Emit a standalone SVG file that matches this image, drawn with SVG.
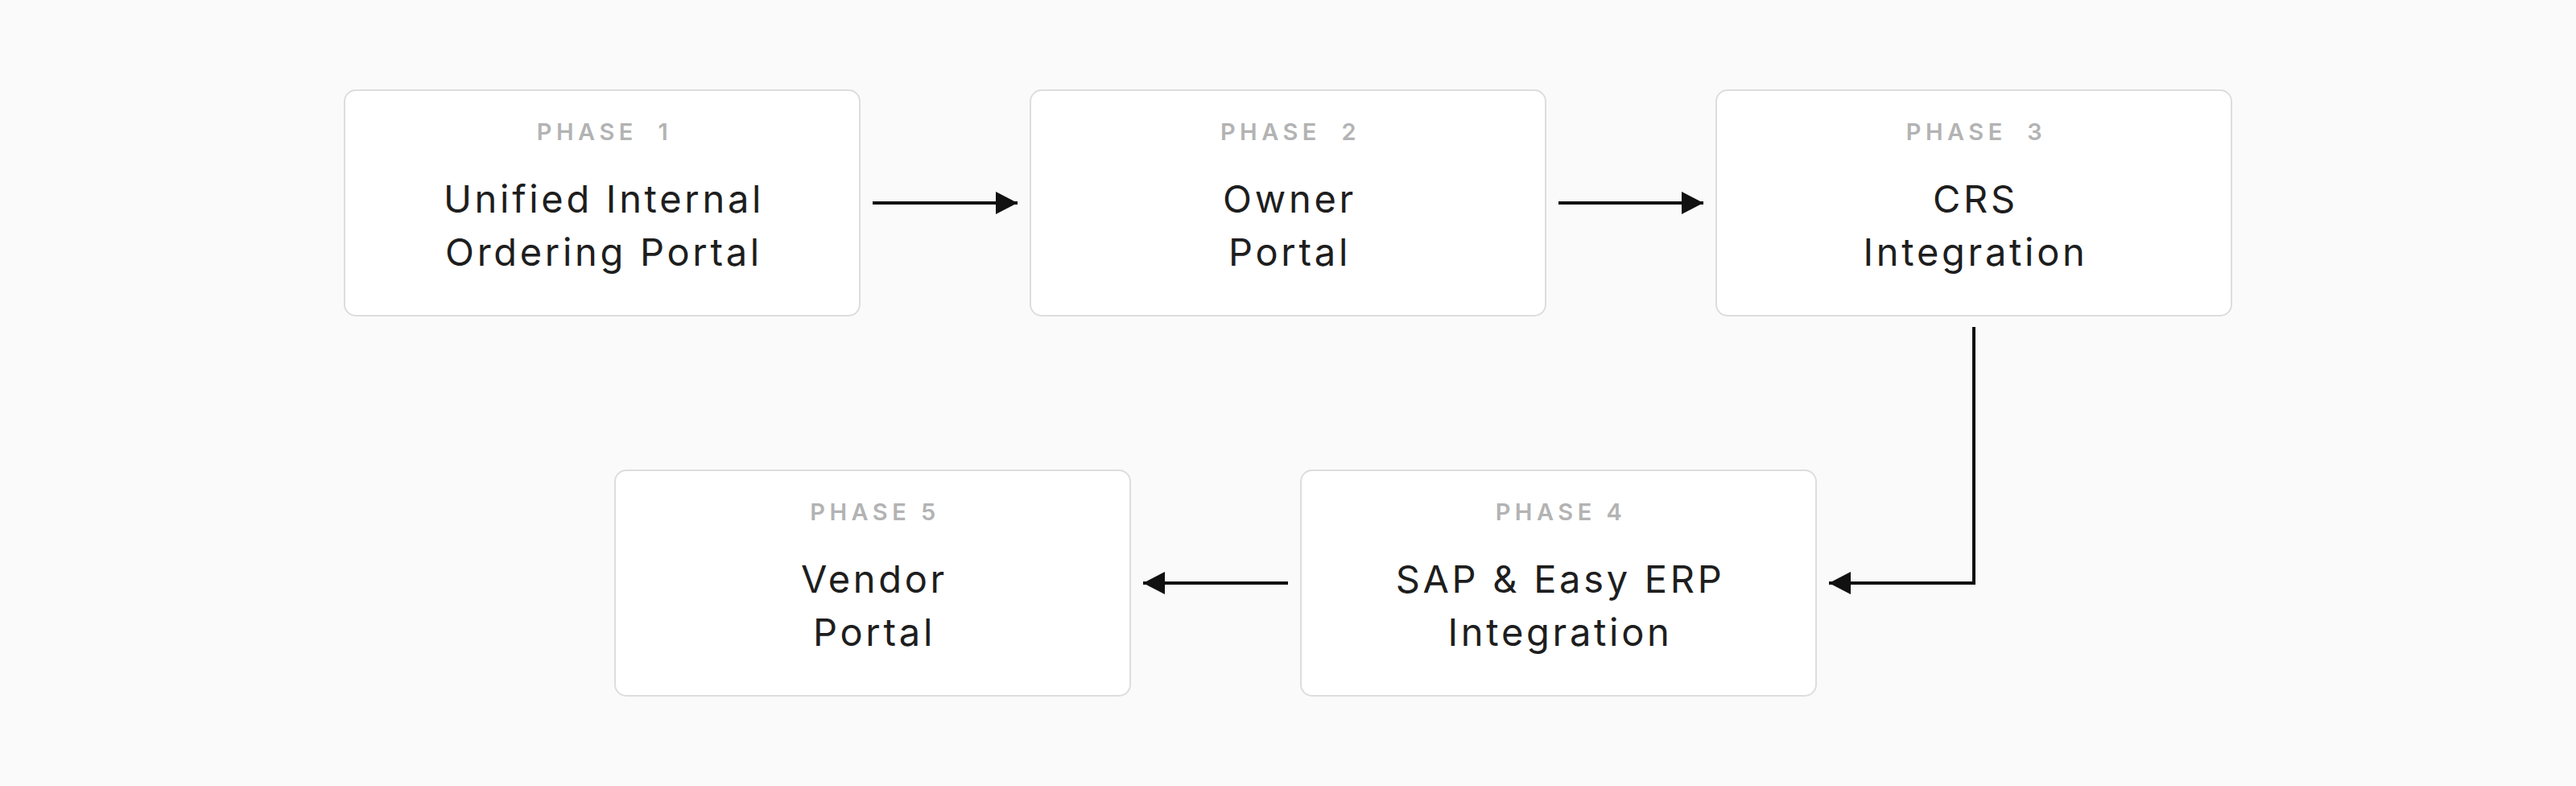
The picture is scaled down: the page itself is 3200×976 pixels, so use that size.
<svg xmlns="http://www.w3.org/2000/svg" width="3200" height="976" viewBox="0 0 3200 976">
<defs>
<style>
.box{fill:#ffffff;stroke:#dddddd;stroke-width:2}
.lbl{font-family:Inter,"Liberation Sans",sans-serif;font-size:29px;font-weight:600;fill:#b3b3b3;letter-spacing:5.5px;text-anchor:middle}
.ttl{font-family:Inter,"Liberation Sans",sans-serif;font-size:47px;font-weight:400;fill:#1e1e1e;letter-spacing:3.7px;text-anchor:middle}
.con{fill:none;stroke:#111111;stroke-width:4}
</style>
<marker id="ah" markerWidth="27" markerHeight="28" refX="27" refY="14" orient="auto" markerUnits="userSpaceOnUse">
<path d="M0,0 L27,14 L0,28 Z" fill="#111111"/>
</marker>
</defs>
<rect x="0" y="0" width="3200" height="976" fill="#fafafa"/>
<g id="phase1">
<rect class="box" x="428" y="112" width="640" height="280" rx="14"/>
<text class="lbl" x="751" y="174" xml:space="preserve">PHASE  1</text>
<text class="ttl" x="750" y="264">Unified Internal</text>
<text class="ttl" x="750" y="330">Ordering Portal</text>
</g>
<g id="phase2">
<rect class="box" x="1280" y="112" width="640" height="280" rx="14"/>
<text class="lbl" x="1603" y="174" xml:space="preserve">PHASE  2</text>
<text class="ttl" x="1602" y="264">Owner</text>
<text class="ttl" x="1602" y="330">Portal</text>
</g>
<g id="phase3">
<rect class="box" x="2132" y="112" width="640" height="280" rx="14"/>
<text class="lbl" x="2455" y="174" xml:space="preserve">PHASE  3</text>
<text class="ttl" x="2454" y="264">CRS</text>
<text class="ttl" x="2454" y="330">Integration</text>
</g>
<g id="phase4">
<rect class="box" x="1616" y="584" width="640" height="280" rx="14"/>
<text class="lbl" x="1939" y="646">PHASE 4</text>
<text class="ttl" x="1938" y="736">SAP &amp; Easy ERP</text>
<text class="ttl" x="1938" y="802">Integration</text>
</g>
<g id="phase5">
<rect class="box" x="764" y="584" width="640" height="280" rx="14"/>
<text class="lbl" x="1087" y="646">PHASE 5</text>
<text class="ttl" x="1086" y="736">Vendor</text>
<text class="ttl" x="1086" y="802">Portal</text>
</g>
<g id="connectors">
<path class="con" d="M1084,252 L1264,252" marker-end="url(#ah)"/>
<path class="con" d="M1936,252 L2116,252" marker-end="url(#ah)"/>
<path class="con" d="M2452,406 L2452,724 L2272,724" marker-end="url(#ah)"/>
<path class="con" d="M1600,724 L1420,724" marker-end="url(#ah)"/>
</g>
</svg>
